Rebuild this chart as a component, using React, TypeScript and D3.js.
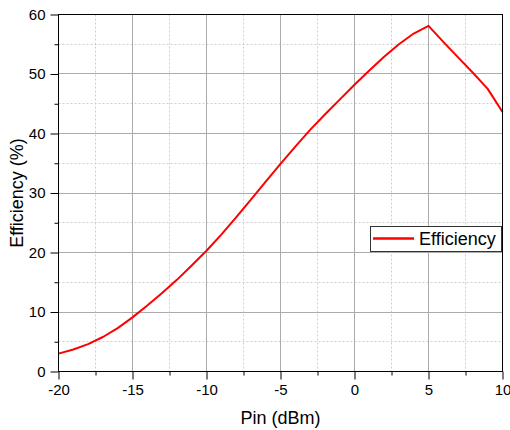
import { useEffect, useRef } from "react";
import * as d3 from "d3";

// Pin (dBm) sweep and the measured efficiency (%)
const pinValues = [
  -20, -19, -18, -17, -16, -15, -14, -13, -12, -11, -10, -9, -8, -7, -6, -5, -4, -3, -2, -1, 0,
  1, 2, 3, 4, 5, 6, 7, 8, 9, 10,
];
const efficiencyValues = [
  3.0, 3.7, 4.6, 5.8, 7.3, 9.1, 11.1, 13.2, 15.4, 17.8, 20.3, 23.0, 25.9, 28.9, 31.9, 34.9, 37.8,
  40.6, 43.2, 45.7, 48.2, 50.6, 52.9, 55.0, 56.8, 58.1, 55.4, 52.8, 50.2, 47.5, 43.6,
];

const xMajorTicks = [-20, -15, -10, -5, 0, 5, 10];
const xMinorTicks = [-17.5, -12.5, -7.5, -2.5, 2.5, 7.5];
const yMajorTicks = [0, 10, 20, 30, 40, 50, 60];
const yMinorTicks = [5, 15, 25, 35, 45, 55];

const width = 510;
const height = 430;
const plot = { left: 58.5, right: 502.5, top: 14.5, bottom: 371.5 };
const font = "'Liberation Sans', Arial, sans-serif";

const App = () => {
  const svgRef = useRef<SVGSVGElement | null>(null);

  useEffect(() => {
    if (!svgRef.current) return;
    const svg = d3.select(svgRef.current);
    svg.selectAll("*").remove();

    const x = d3.scaleLinear().domain([-20, 10]).range([plot.left, plot.right]);
    const y = d3.scaleLinear().domain([0, 60]).range([plot.bottom, plot.top]);
    const crisp = (v: number) => Math.round(v - 0.5) + 0.5;

    svg.append("rect").attr("width", width).attr("height", height).attr("fill", "#ffffff");

    const grid = svg.append("g");
    // minor grid (dotted)
    grid
      .selectAll("line.vminor")
      .data(xMinorTicks)
      .join("line")
      .attr("x1", (d) => crisp(x(d)))
      .attr("x2", (d) => crisp(x(d)))
      .attr("y1", plot.top)
      .attr("y2", plot.bottom)
      .attr("stroke", "#cfcfcf")
      .attr("stroke-dasharray", "2,2");
    grid
      .selectAll("line.hminor")
      .data(yMinorTicks)
      .join("line")
      .attr("x1", plot.left)
      .attr("x2", plot.right)
      .attr("y1", (d) => crisp(y(d)))
      .attr("y2", (d) => crisp(y(d)))
      .attr("stroke", "#cfcfcf")
      .attr("stroke-dasharray", "2,2");
    // major grid (solid)
    grid
      .append("g")
      .selectAll("line")
      .data(xMajorTicks.slice(1, -1))
      .join("line")
      .attr("x1", (d) => crisp(x(d)))
      .attr("x2", (d) => crisp(x(d)))
      .attr("y1", plot.top)
      .attr("y2", plot.bottom)
      .attr("stroke", "#ababab");
    grid
      .append("g")
      .selectAll("line")
      .data(yMajorTicks.slice(1, -1))
      .join("line")
      .attr("x1", plot.left)
      .attr("x2", plot.right)
      .attr("y1", (d) => crisp(y(d)))
      .attr("y2", (d) => crisp(y(d)))
      .attr("stroke", "#ababab");

    // curve
    const line = d3
      .line<number>()
      .x((_, i) => x(pinValues[i]))
      .y((d) => y(d));
    svg
      .append("path")
      .datum(efficiencyValues)
      .attr("d", line)
      .attr("fill", "none")
      .attr("stroke", "#ff0000")
      .attr("stroke-width", 2)
      .attr("stroke-linejoin", "round");

    // frame
    svg
      .append("rect")
      .attr("x", plot.left)
      .attr("y", plot.top)
      .attr("width", plot.right - plot.left)
      .attr("height", plot.bottom - plot.top)
      .attr("fill", "none")
      .attr("stroke", "#000000");

    // bottom axis (hyphen minus like the original, not d3's unicode minus)
    const xAxis = svg.append("g").attr("transform", `translate(0,${plot.bottom})`);
    xAxis.call(
      d3
        .axisBottom(x)
        .tickValues(xMajorTicks)
        .tickSize(8)
        .tickPadding(4.5)
        .tickFormat((d) => String(d))
    );
    xAxis.append("g").call(
      d3.axisBottom(x).tickValues(xMinorTicks).tickSize(4).tickFormat(() => "")
    );
    // left axis
    const yAxis = svg.append("g").attr("transform", `translate(${plot.left},0)`);
    yAxis.call(
      d3
        .axisLeft(y)
        .tickValues(yMajorTicks)
        .tickSize(8)
        .tickPadding(5)
        .tickFormat((d) => String(d))
    );
    yAxis.append("g").call(
      d3.axisLeft(y).tickValues(yMinorTicks).tickSize(4).tickFormat(() => "")
    );
    svg.selectAll(".domain").remove();
    svg.selectAll(".tick line").attr("stroke", "#000000");
    svg
      .selectAll(".tick text")
      .attr("fill", "#000000")
      .style("font-family", font)
      .style("font-size", "15px");

    // axis titles
    svg
      .append("text")
      .attr("x", (plot.left + plot.right) / 2)
      .attr("y", 424)
      .attr("text-anchor", "middle")
      .style("font-family", font)
      .style("font-size", "18px")
      .text("Pin (dBm)");
    svg
      .append("text")
      .attr("transform", `translate(23,${(plot.top + plot.bottom) / 2}) rotate(-90)`)
      .attr("text-anchor", "middle")
      .style("font-family", font)
      .style("font-size", "18px")
      .text("Efficiency (%)");

    // legend
    const legend = svg.append("g");
    legend
      .append("rect")
      .attr("x", 370.5)
      .attr("y", 226.5)
      .attr("width", 131)
      .attr("height", 25)
      .attr("fill", "#ffffff")
      .attr("stroke", "#333333");
    legend
      .append("line")
      .attr("x1", 373)
      .attr("x2", 414)
      .attr("y1", 238.5)
      .attr("y2", 238.5)
      .attr("stroke", "#ff0000")
      .attr("stroke-width", 2.5);
    legend
      .append("text")
      .attr("x", 419)
      .attr("y", 245)
      .style("font-family", font)
      .style("font-size", "18px")
      .text("Efficiency");
  }, []);

  return (
    <div style={{ position: "fixed", left: 0, top: 0, width, height, background: "#fff" }}>
      <svg ref={svgRef} width={width} height={height} />
    </div>
  );
};

export default App;
